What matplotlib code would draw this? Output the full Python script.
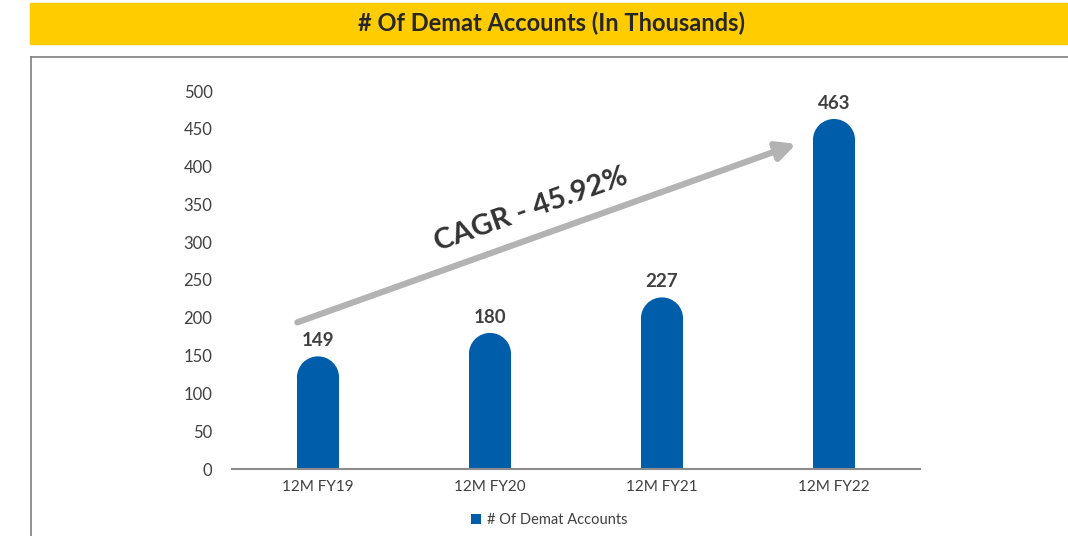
import matplotlib.pyplot as plt
from matplotlib.patches import Rectangle, Ellipse
import numpy as np

# data
categories = ['12M FY19', '12M FY20', '12M FY21', '12M FY22']
accounts = [149, 180, 227, 463]
title = '# Of Demat Accounts (In Thousands)'
legend_label = '# Of Demat Accounts'
cagr_text = 'CAGR - 45.92%'

plt.rcParams['font.family'] = ['Lato', 'DejaVu Sans']

BLUE = '#005DAA'
GREY_TXT = '#404040'

fig = plt.figure(figsize=(10.68, 5.36), dpi=100)
W, H = 1068, 536

# yellow title band
fig.patches.append(Rectangle((30 / W, 1 - 44 / H), 1 - 30 / W, 41 / H,
                             transform=fig.transFigure, color='#FFCC00', zorder=0))
fig.text(551 / W, 1 - 23 / H, title, ha='center', va='center',
         fontsize=17, fontweight='bold', color='#262626')
# outer grey frame (open at right/bottom)
fig.add_artist(plt.Line2D([31 / W, 31 / W], [0, 1 - 57 / H], color='#7f7f7f', lw=1.2))
fig.add_artist(plt.Line2D([31 / W, 1], [1 - 57 / H, 1 - 57 / H], color='#7f7f7f', lw=1.2))

ax = fig.add_axes([232 / W, 67 / H, 688 / W, 378 / H])
ax.set_xlim(-0.5, 3.5)
ax.set_ylim(0, 500)

x = np.arange(len(categories))
bw = 0.245
# radius of rounded top in data units (semicircle in pixels)
r_px = bw * 688 / 4 / 2
r_y = r_px * 500 / 378

bars = ax.bar(x, [v - r_y for v in accounts], width=bw, color=BLUE,
              label=legend_label, zorder=2, linewidth=0)
for xi, v in zip(x, accounts):
    ax.add_patch(Ellipse((xi, v - r_y), bw, 2 * r_y, facecolor=BLUE,
                         linewidth=0, zorder=2))
    ax.annotate(str(v), (xi, v), xytext=(0, 5), textcoords='offset points',
                ha='center', va='bottom', fontsize=13.5, fontweight='bold',
                color=GREY_TXT)

# CAGR arrow
ax.annotate('', xy=(2.78, 430), xytext=(-0.12, 194),
            arrowprops=dict(arrowstyle='-|>', color='#b3b3b3', lw=4.5,
                            mutation_scale=28, shrinkA=0, shrinkB=0),
            zorder=3)
ax.text(1.24, 343, cagr_text, rotation=19.5, ha='center', va='center',
        fontsize=21, fontweight='bold', color='#333333',
        rotation_mode='anchor')

for s in ['top', 'right', 'left']:
    ax.spines[s].set_visible(False)
ax.spines['bottom'].set_color('#8c8c8c')
ax.spines['bottom'].set_linewidth(1.5)
ax.set_xticks(x)
ax.set_xticklabels(categories)
ax.set_yticks(range(0, 501, 50))
ax.tick_params(axis='y', length=0, pad=14, labelsize=12, labelcolor=GREY_TXT)
ax.tick_params(axis='x', length=0, pad=8, labelsize=11, labelcolor=GREY_TXT)

fig.legend(handles=[bars], labels=[legend_label], loc='center',
           bbox_to_anchor=(549 / W, 1 - 520 / H), frameon=False,
           fontsize=10.5, handlelength=0.7, handleheight=0.7,
           handletextpad=0.4, labelcolor=GREY_TXT)

plt.savefig('out.png', dpi=100)
